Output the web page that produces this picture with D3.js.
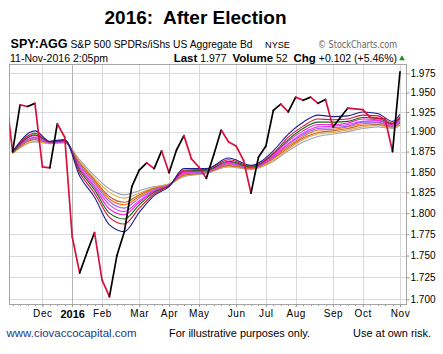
<!DOCTYPE html>
<html>
<head>
<meta charset="utf-8">
<script src="https://d3js.org/d3.v7.min.js"></script>
<style>
  body { margin: 0; background: #fff; }
  svg { display: block; font-family: "Liberation Sans", Arial, sans-serif; }
  text { white-space: pre; }
</style>
</head>
<body>
<div class="canvas"></div>
<script>
// weekly closes of SPY:AGG, one bar per week (Monday date), first bar = 2-Nov-2015
const firstWeek = Date.UTC(2015, 10, 2);
const closes = [1.955, 1.875, 1.934, 1.932, 1.936, 1.856, 1.855, 1.910, 1.893, 1.772,
  1.730, 1.754, 1.777, 1.722, 1.703, 1.750, 1.778, 1.832, 1.852, 1.861,
  1.854, 1.876, 1.849, 1.877, 1.895, 1.866, 1.856, 1.842, 1.871, 1.902,
  1.887, 1.882, 1.864, 1.824, 1.868, 1.882, 1.927, 1.935, 1.925, 1.944,
  1.940, 1.944, 1.936, 1.941, 1.906, 1.918, 1.930, 1.929, 1.928, 1.918,
  1.917, 1.916, 1.875, 1.977];

// moving average ribbon, read at these week numbers (fastest first)
const maWeeks = [1, 4, 6, 8, 10, 12, 14, 16, 18, 20, 22, 24, 27, 30, 33, 36, 38, 40, 42, 44, 46, 48, 50, 52, 53];
const ma1 = [1.875, 1.901, 1.888, 1.890, 1.845, 1.819, 1.786, 1.778, 1.801, 1.821, 1.832, 1.854, 1.854, 1.867, 1.858, 1.876, 1.897, 1.912, 1.921, 1.919, 1.920, 1.925, 1.923, 1.913, 1.922];
const ma2 = [1.875, 1.898, 1.887, 1.889, 1.849, 1.824, 1.795, 1.787, 1.806, 1.823, 1.833, 1.852, 1.853, 1.865, 1.857, 1.873, 1.893, 1.907, 1.916, 1.915, 1.916, 1.921, 1.920, 1.911, 1.919];
const ma3 = [1.874, 1.896, 1.887, 1.889, 1.852, 1.828, 1.800, 1.793, 1.810, 1.825, 1.833, 1.851, 1.852, 1.863, 1.856, 1.872, 1.890, 1.904, 1.912, 1.912, 1.913, 1.918, 1.917, 1.910, 1.917];
const ma4 = [1.874, 1.895, 1.887, 1.888, 1.854, 1.831, 1.805, 1.798, 1.813, 1.826, 1.833, 1.850, 1.851, 1.862, 1.856, 1.870, 1.888, 1.901, 1.909, 1.909, 1.911, 1.916, 1.915, 1.909, 1.916];
const ma5 = [1.874, 1.893, 1.886, 1.888, 1.856, 1.833, 1.810, 1.802, 1.815, 1.827, 1.834, 1.849, 1.851, 1.861, 1.855, 1.869, 1.885, 1.898, 1.906, 1.907, 1.909, 1.913, 1.914, 1.908, 1.914];
const ma6 = [1.874, 1.892, 1.886, 1.887, 1.858, 1.836, 1.814, 1.806, 1.818, 1.828, 1.834, 1.848, 1.850, 1.860, 1.855, 1.868, 1.884, 1.896, 1.904, 1.905, 1.907, 1.912, 1.912, 1.907, 1.913];
const ma7 = [1.874, 1.891, 1.886, 1.887, 1.859, 1.838, 1.817, 1.810, 1.820, 1.829, 1.834, 1.847, 1.850, 1.859, 1.854, 1.867, 1.882, 1.894, 1.902, 1.903, 1.906, 1.910, 1.911, 1.907, 1.912];
const ma8 = [1.873, 1.890, 1.886, 1.887, 1.861, 1.840, 1.820, 1.813, 1.822, 1.830, 1.834, 1.846, 1.849, 1.858, 1.854, 1.866, 1.880, 1.892, 1.899, 1.901, 1.904, 1.908, 1.909, 1.906, 1.911];
const ma9 = [1.873, 1.888, 1.885, 1.886, 1.863, 1.842, 1.825, 1.818, 1.824, 1.831, 1.835, 1.845, 1.849, 1.857, 1.854, 1.864, 1.878, 1.890, 1.897, 1.899, 1.902, 1.906, 1.908, 1.905, 1.909];
const ma10 = [1.873, 1.887, 1.885, 1.886, 1.865, 1.845, 1.829, 1.822, 1.827, 1.832, 1.835, 1.844, 1.848, 1.856, 1.853, 1.863, 1.876, 1.887, 1.894, 1.897, 1.900, 1.904, 1.906, 1.904, 1.908];
const maLines = [ma1, ma2, ma3, ma4, ma5, ma6, ma7, ma8, ma9, ma10];
const maColors = ["#1c1c96", "#d6153a", "#0d6e0d", "#ff1ee0", "#d040f0", "#9b5cff",
  "#ff6a00", "#b8692c", "#e8a544", "#9aa6b2"];

const yTicks = [1.700, 1.725, 1.750, 1.775, 1.800, 1.825, 1.850, 1.875, 1.900, 1.925, 1.950, 1.975];
const monthLabels = ["Dec", "2016", "Feb", "Mar", "Apr", "May", "Jun", "Jul", "Aug", "Sep", "Oct", "Nov"];

const W = 443, H = 354;
const plot = { left: 9.5, top: 64.5, right: 406.5, bottom: 304 };

const svg = d3.select(".canvas").append("svg").attr("width", W).attr("height", H);

const weeks = closes.map((c, i) => d3.utcMonday.offset(new Date(firstWeek), i));
const monthTicks = d3.utcMonth
  .range(new Date(Date.UTC(2015, 11, 1)), new Date(Date.UTC(2016, 10, 2)))
  .map((d) => d3.utcMonday.ceil(d));

// scales
const x = d3.scaleUtc().domain([weeks[0], weeks[weeks.length - 1]]).range([5.15, 400]);
const y = d3.scaleLog().domain([1.7, 1.975]).range([299.3, 73.3]);

svg.append("clipPath").attr("id", "clip")
  .append("rect")
  .attr("x", plot.left).attr("y", plot.top)
  .attr("width", plot.right - plot.left).attr("height", plot.bottom - plot.top);

// grid
const grid = svg.append("g").attr("shape-rendering", "crispEdges");
grid.selectAll(".hg").data(yTicks).enter().append("line")
  .attr("x1", plot.left).attr("x2", plot.right)
  .attr("y1", (d) => Math.round(y(d)) + 0.5).attr("y2", (d) => Math.round(y(d)) + 0.5)
  .attr("stroke", "#d9d9d9");
grid.selectAll(".vg").data(monthTicks).enter().append("line")
  .attr("x1", (d) => Math.round(x(d)) + 0.5).attr("x2", (d) => Math.round(x(d)) + 0.5)
  .attr("y1", plot.top).attr("y2", plot.bottom)
  .attr("stroke", (d, i) => (monthLabels[i] === "2016" ? "#b4b4b4" : "#d9d9d9"));

// weekly minor ticks under the frame
grid.selectAll(".wt").data(weeks.filter((d) => x(d) > plot.left)).enter().append("line")
  .attr("x1", (d) => Math.round(x(d)) + 0.5).attr("x2", (d) => Math.round(x(d)) + 0.5)
  .attr("y1", plot.bottom).attr("y2", plot.bottom + 2)
  .attr("stroke", "#999");

// frame
svg.append("rect")
  .attr("x", plot.left).attr("y", plot.top)
  .attr("width", plot.right - plot.left).attr("height", plot.bottom - plot.top)
  .attr("fill", "none").attr("stroke", "#a6a6a6").attr("shape-rendering", "crispEdges");

// axes
const yAxis = d3.axisRight(y).tickValues(yTicks).tickFormat(d3.format(".3f")).tickSize(3).tickPadding(1);
const yAxisGroup = svg.append("g").attr("transform", `translate(${plot.right},0)`).call(yAxis);
yAxisGroup.select(".domain").remove();
yAxisGroup.selectAll("line").attr("stroke", "#999");
yAxisGroup.selectAll("text").attr("font-size", "10px").attr("fill", "#000")
  .attr("font-family", "'Liberation Sans', Arial, sans-serif");

const xAxis = d3.axisBottom(x).tickValues(monthTicks).tickFormat((d, i) => monthLabels[i]).tickSize(3).tickPadding(3);
const xAxisGroup = svg.append("g").attr("transform", `translate(0,${plot.bottom})`).call(xAxis);
xAxisGroup.select(".domain").remove();
xAxisGroup.selectAll("line").attr("stroke", "#999");
xAxisGroup.selectAll("text")
  .attr("fill", "#000")
  .attr("font-family", "'Liberation Sans', Arial, sans-serif")
  .attr("font-weight", (d, i) => (monthLabels[i] === "2016" ? "bold" : "normal"))
  .attr("font-size", (d, i) => (monthLabels[i] === "2016" ? "11px" : "10px"))
  .attr("letter-spacing", (d, i) => (monthLabels[i] === "2016" ? "0px" : "0.6px"));

// moving average ribbon (slowest drawn first)
const chart = svg.append("g").attr("clip-path", "url(#clip)");
const maLine = d3.line()
  .x((d, i) => x(weeks[maWeeks[i]]))
  .y((d) => y(d))
  .curve(d3.curveMonotoneX);
maLines.slice().reverse().forEach((vals, j) => {
  const k = maLines.length - 1 - j;
  chart.append("path")
    .attr("d", maLine(vals))
    .attr("fill", "none")
    .attr("stroke", maColors[k])
    .attr("stroke-width", 1.1);
});

// price line: red when the week closed lower, black when higher
const seg = d3.line().x((d) => x(weeks[d])).y((d) => y(closes[d]));
chart.selectAll(".price").data(d3.range(1, closes.length)).enter().append("path")
  .attr("d", (i) => seg([i - 1, i]))
  .attr("fill", "none")
  .attr("stroke", (i) => (closes[i] < closes[i - 1] ? "#d8103c" : "#000"))
  .attr("stroke-width", 1.7)
  .attr("stroke-linecap", "round");

// header texts
const txt = (xp, yp, s, opts = {}) => {
  const t = svg.append("text").attr("x", xp).attr("y", yp).text(s)
    .attr("font-size", opts.size || "10px")
    .attr("font-weight", opts.weight || "normal")
    .attr("fill", opts.fill || "#000")
    .attr("text-anchor", opts.anchor || "start");
  if (opts.family) t.attr("font-family", opts.family);
  if (opts.len) t.attr("textLength", opts.len).attr("lengthAdjust", "spacingAndGlyphs");
  return t;
};

txt(195.5, 23.5, "2016:  After Election", { size: "19px", weight: "bold", anchor: "middle" });

txt(10.5, 48, "SPY:AGG", { size: "12.5px", weight: "bold", len: 57 });
txt(70.5, 48, "S&P 500 SPDRs/iShs US Aggregate Bd", { size: "10.5px", len: 182 });
txt(265, 48, "NYSE", { size: "9px", len: 25 });
txt(318, 48, "\u00a9 StockCharts.com", { size: "10px", fill: "#666", family: "'DejaVu Sans', sans-serif", len: 79 });

txt(10, 61.5, "11-Nov-2016 2:05pm", { size: "10px", len: 98 });

const stats = svg.append("text").attr("x", 397).attr("y", 61.5).attr("text-anchor", "end").attr("font-size", "10.5px");
stats.append("tspan").attr("font-weight", "bold").attr("font-size", "11.5px").text("Last");
stats.append("tspan").text(" 1.977  ");
stats.append("tspan").attr("font-weight", "bold").attr("font-size", "11.5px").text("Volume");
stats.append("tspan").text(" 52  ");
stats.append("tspan").attr("font-weight", "bold").attr("font-size", "11.5px").text("Chg");
stats.append("tspan").text(" +0.102 (+5.46%)");

svg.append("path")
  .attr("d", d3.symbol().type(d3.symbolTriangle).size(14))
  .attr("transform", "translate(402,58.5)")
  .attr("fill", "#1e8c1e");

// footer
txt(6.5, 337, "www.ciovaccocapital.com", { size: "11px", fill: "#23388c", len: 130 });
txt(169, 337, "For illustrative purposes only.", { size: "11px", len: 141 });
txt(353, 337, "Use at own risk.", { size: "11px", len: 78 });
</script>
</body>
</html>
